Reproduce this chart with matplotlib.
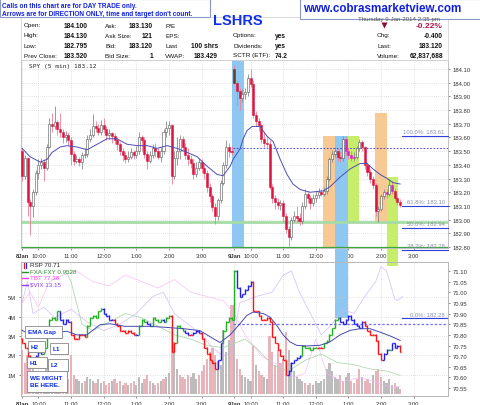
import numpy as np
import matplotlib.pyplot as plt
from matplotlib.patches import Rectangle

plt.rcParams['font.family'] = ['Liberation Sans', 'DejaVu Sans']

# ---- SPY 5 min candles: bar 0 = 8 Jan 9:30, bar 78 = 9 Jan 9:30
spy_close = [
    183.32, 183.45, 183.13, 183.10, 183.20, 183.34, 183.40, 183.42, 183.38, 183.53, 183.70, 183.68,
    183.71, 183.66, 183.64, 183.60, 183.62, 183.58, 183.48, 183.43, 183.44, 183.42, 183.47, 183.48,
    183.59, 183.62, 183.68, 183.67, 183.64, 183.69, 183.66, 183.62, 183.63, 183.61, 183.58, 183.55,
    183.50, 183.47, 183.44, 183.46, 183.49, 183.47, 183.50, 183.60, 183.58, 183.48, 183.43, 183.47,
    183.52, 183.50, 183.46, 183.50, 183.64, 183.67, 183.69, 183.32, 183.45, 183.50, 183.59, 183.53,
    183.47, 183.44, 183.41, 183.33, 183.38, 183.42, 183.38, 183.34, 183.24, 183.17, 183.09, 183.03,
    183.14, 183.27, 183.40, 183.53, 183.50, 183.49,
    184.00, 183.94, 183.89, 183.92, 183.93, 184.03, 183.99, 183.76, 183.72, 183.69, 183.59, 183.56,
    183.55, 183.24, 183.16, 183.13, 183.11, 183.12, 183.03, 182.93, 182.87, 183.00, 183.03, 183.01,
    182.99, 183.10, 183.19, 183.16, 183.12, 183.16, 183.18, 183.20, 183.19, 183.21, 183.30, 183.44,
    183.48, 183.50, 183.46, 183.45, 183.59, 183.50, 183.47, 183.45, 183.46, 183.52, 183.57, 183.53,
    183.40, 183.35, 183.30, 183.25, 183.06, 183.08, 183.17, 183.20, 183.19, 183.25, 183.21, 183.16,
    183.13, 183.11]
spy_high = [
    183.52, 183.47, 183.46, 183.15, 183.22, 183.36, 183.44, 183.45, 183.44, 183.55, 183.74, 183.78,
    183.83, 183.73, 183.78, 183.66, 183.65, 183.64, 183.60, 183.50, 183.47, 183.46, 183.49, 183.52,
    183.62, 183.66, 183.77, 183.72, 183.70, 183.73, 183.74, 183.68, 183.66, 183.64, 183.63, 183.60,
    183.57, 183.52, 183.49, 183.50, 183.52, 183.51, 183.54, 183.64, 183.62, 183.60, 183.50, 183.50,
    183.55, 183.56, 183.52, 183.53, 183.66, 183.72, 183.72, 183.70, 183.50, 183.60, 183.62, 183.61,
    183.56, 183.52, 183.47, 183.44, 183.42, 183.45, 183.44, 183.41, 183.36, 183.27, 183.19, 183.12,
    183.16, 183.29, 183.42, 183.58, 183.56, 183.54,
    184.13, 184.02, 183.96, 183.95, 183.96, 184.06, 184.10, 184.02, 183.79, 183.74, 183.70, 183.64,
    183.60, 183.58, 183.26, 183.18, 183.16, 183.14, 183.14, 183.05, 182.95, 183.02, 183.06, 183.10,
    183.05, 183.13, 183.22, 183.21, 183.18, 183.19, 183.21, 183.23, 183.22, 183.24, 183.32, 183.46,
    183.51, 183.53, 183.52, 183.49, 183.61, 183.60, 183.52, 183.50, 183.49, 183.54, 183.59, 183.58,
    183.54, 183.42, 183.37, 183.32, 183.27, 183.10, 183.19, 183.22, 183.22, 183.30, 183.28, 183.23,
    183.18, 183.15]
spy_low = [
    183.28, 183.30, 183.03, 182.89, 183.02, 183.18, 183.30, 183.37, 183.28, 183.36, 183.52, 183.64,
    183.66, 183.62, 183.60, 183.56, 183.57, 183.54, 183.40, 183.40, 183.41, 183.39, 183.37, 183.45,
    183.46, 183.57, 183.60, 183.64, 183.62, 183.62, 183.63, 183.58, 183.59, 183.56, 183.55, 183.51,
    183.47, 183.43, 183.41, 183.42, 183.44, 183.44, 183.45, 183.48, 183.50, 183.45, 183.37, 183.41,
    183.45, 183.46, 183.44, 183.42, 183.48, 183.60, 183.62, 183.26, 183.30, 183.40, 183.44, 183.50,
    183.44, 183.40, 183.38, 183.30, 183.31, 183.36, 183.34, 183.30, 183.20, 183.13, 183.06, 182.97,
    183.00, 183.12, 183.25, 183.38, 183.46, 183.47,
    183.99, 183.84, 183.80, 183.86, 183.88, 183.90, 183.97, 183.74, 183.68, 183.65, 183.56, 183.53,
    183.52, 183.22, 183.12, 183.08, 183.08, 183.07, 182.98, 182.90, 182.81, 182.85, 182.98, 182.98,
    182.96, 182.97, 183.08, 183.12, 183.08, 183.10, 183.13, 183.16, 183.17, 183.17, 183.19, 183.28,
    183.42, 183.46, 183.43, 183.42, 183.43, 183.47, 183.44, 183.43, 183.43, 183.44, 183.50, 183.50,
    183.37, 183.32, 183.27, 183.22, 183.03, 182.98, 183.06, 183.15, 183.16, 183.17, 183.19, 183.14,
    183.11, 183.09]
day_open = {0: 183.50, 78: 184.10}
magenta_bars = [119, 120, 121, 122, 134, 136]

# moving average of SPY, read as (bar, price)
ema_x = [0, 2.9, 6.6, 9.2, 11, 14, 16.5, 20.2, 23.9, 27.6, 31.2, 34.9, 38.6, 42.3, 46, 49.6, 53.3,
         57, 60.7, 64.3, 68, 71.7, 73.9, 76.5, 77.6, 80.1, 81.3, 82.7, 84.6, 87.5, 90, 92.3, 94.9,
         97.4, 99.6, 102.2, 105.9, 110.7, 113.2, 116.9, 120.6, 124.3, 126.8, 129, 131.6, 134.2,
         136.4, 139]
ema_y = [183.52, 183.46, 183.42, 183.44, 183.49, 183.53, 183.54, 183.53, 183.51, 183.55, 183.59,
         183.59, 183.55, 183.54, 183.54, 183.52, 183.54, 183.52, 183.49, 183.46, 183.39, 183.33,
         183.32, 183.39, 183.44, 183.515, 183.59, 183.65, 183.68, 183.68, 183.61, 183.57, 183.44,
         183.33, 183.26, 183.22, 183.20, 183.21, 183.24, 183.31, 183.37, 183.41, 183.41, 183.37,
         183.33, 183.30, 183.27, 183.26]

# fibonacci levels
fib_names = ['100.0%', '61.8%', '50.0%', '38.2%', '0.0%']
fib_levels = [183.61, 183.10, 182.94, 182.78, 182.28]

# ---- lower panel: RSP bars, volume, overlays
rsp_close = [
    70.76, 70.74, 70.70, 70.66, 70.68, 70.70, 70.72, 70.71, 70.74, 70.80, 70.87, 70.88,
    70.87, 70.91, 70.87, 70.85, 70.87, 70.86, 70.80, 70.78, 70.78, 70.80, 70.80, 70.79,
    70.84, 70.88, 70.89, 70.88, 70.91, 70.92, 70.90, 70.89, 70.87, 70.87, 70.85, 70.84,
    70.82, 70.82, 70.81, 70.82, 70.81, 70.80, 70.80, 70.84, 70.87, 70.86, 70.85, 70.84,
    70.88, 70.87, 70.86, 70.87, 70.86, 70.88, 70.89, 70.72, 70.76, 70.84, 70.83, 70.82,
    70.81, 70.80, 70.80, 70.81, 70.82, 70.81, 70.78, 70.74, 70.71, 70.68, 70.67, 70.64,
    70.68, 70.76, 70.82, 70.86, 70.88, 70.87,
    71.10, 71.02, 70.98, 70.99, 71.01, 71.03, 71.05, 70.91, 70.91, 70.89, 70.87, 70.87,
    70.88, 70.86, 70.79, 70.76, 70.73, 70.70, 70.68, 70.61, 70.63, 70.67, 70.68, 70.69,
    70.70, 70.75, 70.74, 70.74, 70.73, 70.74, 70.74, 70.74, 70.74, 70.76, 70.77, 70.80,
    70.83, 70.87, 70.88, 70.86, 70.85, 70.87, 70.89, 70.87, 70.85, 70.84, 70.83, 70.86,
    70.84, 70.82, 70.80, 70.80, 70.77, 70.71, 70.68, 70.71, 70.73, 70.73, 70.76, 70.74,
    70.75, 70.72]
rsp_open0 = 70.78
rsp_state = ("rrrrrbbbgggg" "ggbbbbrrrrrr" "ggggggbbbbrr" "rrrrrrbgggbb" "ggggbggrrggg"
             "bbrbbbrrrrrr" "bbgggg"
             "gbbbbbbrrrrr" "rrrrrrrrbbbb" "bggggggrrggg" "gggbbbbbbbbb" "rrrrrrrbbgbb" "br")
volume_m = [
    2.3, 1.6, 2.0, 1.7, 1.4, 1.2, 1.0, 1.1, 0.9, 1.3, 1.5, 1.1,
    0.9, 0.8, 1.0, 0.9, 0.7, 0.8, 2.0, 1.0, 0.8, 0.7, 0.6, 0.7,
    0.9, 0.8, 0.7, 0.6, 0.8, 0.6, 0.7, 0.5, 0.6, 0.7, 0.8, 0.6,
    0.7, 0.5, 0.6, 0.5, 0.6, 0.7, 0.5, 0.9, 0.6, 0.8, 1.0, 0.7,
    0.6, 0.5, 0.6, 0.7, 0.8, 0.9, 1.1, 3.4, 2.7, 1.3, 1.0, 0.9,
    0.8, 1.0, 0.9, 1.1, 0.8, 1.0, 1.2, 1.5, 1.8, 2.2, 2.4, 2.0,
    1.7, 1.5, 3.3, 2.2, 2.8, 4.6,
    4.6, 1.8, 1.3, 1.0, 0.9, 0.8, 0.7, 2.5, 1.5, 1.2, 1.0, 0.9,
    0.8, 3.0, 2.2, 1.5, 2.3, 1.6, 1.8, 3.2, 2.3, 1.6, 1.2, 0.9,
    0.8, 0.7, 0.6, 0.5, 0.6, 0.5, 0.7, 0.6, 0.7, 0.8, 1.3, 1.6,
    1.2, 0.9, 0.8, 1.0, 0.7, 0.9, 1.1, 0.7, 0.6, 0.8, 1.3, 0.9,
    0.7, 0.8, 0.6, 1.0, 1.2, 1.3, 0.9, 0.7, 0.6, 0.8, 0.5, 0.6,
    0.4, 0.3]
rsp_ema_x = [0, 4.2, 10.3, 16.4, 20.1, 23.8, 28.7, 32.3, 37.9, 47.1, 53.2, 59.3, 65.4, 70.3, 72.8,
             76.5, 80.1, 82.6, 85, 88.7, 91.2, 93.6, 96.1, 98.5, 100.9, 104.6, 109.5, 113.2,
             116.9, 120.6, 124.3, 127.9, 131.6, 135.3, 139]
rsp_ema_y = [70.821, 70.795, 70.806, 70.817, 70.80, 70.80, 70.848, 70.852, 70.84, 70.84, 70.835,
             70.829, 70.82, 70.782, 70.764, 70.80, 70.852, 70.891, 70.907, 70.90, 70.883, 70.845,
             70.798, 70.767, 70.751, 70.748, 70.751, 70.767, 70.80, 70.821, 70.829, 70.829,
             70.813, 70.795, 70.774]
# comparison symbols, placed on the RSP scale as drawn
vix_x = [0, 2, 4, 8, 12, 18, 24, 30, 36, 42, 48, 52, 56, 62, 66, 70, 74, 77, 80, 86, 92, 96, 99,
         102, 106, 110, 114, 118, 122, 126, 130, 132, 134, 137, 138, 140]
vix_y = [70.95, 71.05, 70.90, 70.93, 70.88, 70.92, 70.86, 70.82, 70.85, 70.90, 70.98, 71.00, 70.90,
         70.84, 70.80, 70.74, 70.70, 70.72, 70.95, 70.98, 71.00, 71.08, 71.10, 71.00, 70.90, 70.80,
         70.85, 70.92, 70.90, 70.98, 71.05, 71.12, 71.10, 70.97, 70.96, 70.98]
tbt_x = [0, 3, 6, 10, 15, 20, 26, 32, 38, 44, 50, 56, 62, 68, 74, 78, 82, 88, 94, 100, 104, 108,
         112, 118, 124, 130, 136, 139]
tbt_y = [70.95, 71.00, 70.93, 71.05, 71.08, 71.10, 71.05, 71.03, 71.08, 71.05, 71.02, 71.06, 71.00,
         70.98, 70.96, 70.90, 70.80, 70.70, 70.66, 70.60, 70.62, 70.78, 70.62, 70.58, 70.60, 70.58,
         70.55, 70.56]
fx_x = [16, 18, 20, 22, 26, 32, 38, 44, 50, 56, 62, 68, 74, 78, 82, 86, 92, 98, 104, 110, 116, 122,
        128, 134, 139]
fx_y = [71.10, 71.05, 70.95, 70.85, 70.82, 70.86, 70.90, 70.88, 70.84, 70.80, 70.78, 70.75, 70.74,
        70.76, 70.78, 70.74, 70.66, 70.63, 70.68, 70.71, 70.67, 70.66, 70.64, 70.63, 70.61]

hour_ticks = [0, 6, 18, 30, 42, 54, 66, 78, 84, 96, 108, 120, 132, 144]
hour_labels = ['8Jan', '10:00', '11:00', '12:00', '1:00', '2:00', '3:00',
               '9Jan', '10:00', '11:00', '12:00', '1:00', '2:00', '3:00']

# ------------------------------------------------------------------
W, H = 480, 406
fig = plt.figure(figsize=(4.8, 4.06), dpi=100)


def px_box(l, t, r, b):
    return [l / W, 1 - b / H, (r - l) / W, (b - t) / H]


XL = (-0.4, 156.6)
ax = fig.add_axes(px_box(21, 61, 448, 249))
axv = fig.add_axes(px_box(21, 263, 448, 397))
axv.set_facecolor('none')
axr = axv.twinx()

grid_kw = dict(color='#c8c8c8', ls=(0, (1, 2)), lw=0.5)
tick_fs = 4.2

# ---- upper panel
x = np.arange(len(spy_close))
c = np.array(spy_close)
o = np.array([day_open[i] if i in day_open else spy_close[i - 1] for i in x])
hi = np.array(spy_high)
lo = np.array(spy_low)
up = c >= o

# shaded bands
ax.add_patch(Rectangle((77.2, 182.5), 4.4, 2.0, color='#8ec8f2', lw=0, zorder=1))
ax.add_patch(Rectangle((110.7, 182.793), 4.4, 183.61 - 182.793, color='#f7c994', lw=0, zorder=1))
ax.add_patch(Rectangle((115.1, 182.28), 4.8, 183.61 - 182.28, color='#8ec8f2', lw=0, zorder=1,
                       clip_on=False))
ax.add_patch(Rectangle((119.9, 182.98), 4.0, 183.61 - 182.98, color='#c6ee6a', lw=0, zorder=1))
ax.add_patch(Rectangle((129.8, 182.98), 4.4, 183.78 - 182.98, color='#f7c994', lw=0, zorder=1))
ax.add_patch(Rectangle((134.2, 182.66), 4.0, 183.31 - 182.66, color='#c6ee6a', lw=0, zorder=1,
                       clip_on=False))

ax.axhline(182.98, color='#a6dca6', lw=2.0, zorder=2)
ax.axhline(182.80, color='#3aa83a', lw=0.9, zorder=2)
ax.hlines(183.52, 77.6, XL[1], color='#3030e0', ls=(0, (2, 2)), lw=0.6, zorder=2)

wick_col = np.where(up, '#8a8a8a', '#ee7d97')
ax.vlines(x, lo, hi, colors=wick_col, lw=0.6, zorder=3)
body = np.maximum(np.abs(c - o), 0.006)
face = np.where(up, 'white', '#dc1640').astype(object)
edge = np.where(up, '#555555', '#dc1640').astype(object)
for i in magenta_bars:
    face[i] = '#e020d0'
    edge[i] = '#e020d0'
face[78] = '#6b3a20'
edge[78] = '#6b3a20'
ax.bar(x, body, bottom=np.minimum(o, c), width=0.75, color=list(face), edgecolor=list(edge),
       lw=0.4, zorder=4)
ax.plot(ema_x, ema_y, color='#4d4dbb', lw=0.7, zorder=5)

for name, lvl in zip(fib_names, fib_levels):
    ax.plot([139.7, XL[1]], [lvl, lvl], color='#3040e0', lw=0.8, clip_on=False, zorder=6)
    ax.text(155.4, lvl + 0.012, f'{name}: {lvl:.2f}', ha='right', va='bottom', fontsize=4.2,
            color='#8890a8', clip_on=False, zorder=6)

ax.set_xlim(*XL)
ax.set_ylim(182.793, 184.165)
ax.set_yticks(np.arange(182.80, 184.11, 0.10))
ax.set_yticklabels([f'{v:.2f}' for v in np.arange(182.80, 184.11, 0.10)])
ax.yaxis.tick_right()
ax.set_xticks(hour_ticks)
ax.set_xticklabels(hour_labels)
ax.text(0.018, 0.985, 'SPY (5 min) 183.12', transform=ax.transAxes, fontsize=4.4,
        family='DejaVu Sans Mono', va='top', ha='left', color='#222222')

# ---- lower panel
r = np.array(rsp_close)
ro = np.r_[rsp_open0, r[:-1]]
state_col = {'r': '#ff1010', 'g': '#20b020', 'b': '#2020f0'}
cols = [state_col[s] for s in rsp_state]
vol_col = ['#bcbcbc' if r[i] >= ro[i] else '#e8b4bc' for i in x]
axv.bar(x, volume_m, width=0.8, color=vol_col, zorder=1)
axv.set_ylim(-0.077, 6.795)
axv.set_yticks([1, 2, 3, 4, 5])
axv.set_yticklabels(['1M', '2M', '3M', '4M', '5M'])
axv.set_xlim(*XL)
axv.set_xticks(hour_ticks)
axv.set_xticklabels(hour_labels)

axr.plot(vix_x, vix_y, color='#cdb4f2', lw=0.6, alpha=0.75, zorder=2)
axr.plot(tbt_x, tbt_y, color='#f6b4f2', lw=0.6, alpha=0.7, zorder=2)
axr.plot(fx_x, fx_y, color='#a8d4a8', lw=0.6, alpha=0.9, zorder=2)
axr.hlines(70.853, 77.6, XL[1], color='#7070f0', ls=(0, (2, 1.5)), lw=0.9, zorder=3)
axr.vlines(x, np.minimum(ro, r), np.maximum(ro, r) + 0.004, colors=cols, lw=1.0, zorder=4)
axr.hlines(ro, x - 0.5, x, colors=cols, lw=1.0, zorder=4)
axr.hlines(r, x, x + 0.5, colors=cols, lw=1.0, zorder=4)
axr.plot(rsp_ema_x, rsp_ema_y, color='#4848b0', lw=0.7, zorder=5)
axr.set_ylim(70.513, 71.142)
ryt = np.arange(70.55, 71.11, 0.05)
axr.set_yticks(ryt)
axr.set_yticklabels([f'{v:.2f}' for v in ryt])
axr.set_xlim(*XL)

for a in (ax, axv):
    a.grid(True, **grid_kw)
    a.set_axisbelow(True)
for a in (ax, axv, axr):
    a.tick_params(labelsize=tick_fs, length=1.5, width=0.4, pad=2, colors='#333333')
    for s in a.spines.values():
        s.set_color('#b8b8b8')
        s.set_linewidth(0.6)
    for lab in a.get_xticklabels():
        if 'Jan' in lab.get_text():
            lab.set_fontweight('bold')

# legend of lower panel
lg = [('RSP 70.71', '#222222'), ('FXA:FXY 0.9528', '#2f8f2f'), ('TBT 77.38', '#ff40f0'),
      ('$VIX 13.15', '#9040f0')]

# ---- overlay in pixel coordinates
ov = fig.add_axes([0, 0, 1, 1], zorder=10)
ov.set_xlim(0, W)
ov.set_ylim(H, 0)
ov.axis('off')

for k, (txt, col) in enumerate(lg):
    yy = 266 + 6.5 * k
    if k == 0:
        ov.plot([23.5, 23.5], [263.5, 268.5], color='#e02020', lw=0.9)
        ov.plot([26, 26], [263.5, 268.5], color='#2030e0', lw=0.9)
    else:
        ov.plot([22, 28], [yy, yy], color=col, lw=1.0)
    ov.text(29.5, yy, txt, fontsize=4.5, color=col, va='center', ha='left')

# header table
ov.add_patch(Rectangle((21, 18), 427, 43, fill=False, ec='#d4d4d4', lw=0.6))
rows_y = [26, 36, 46, 56]
cols_txt = [
    (24, 88, ['Open:', 'High:', 'Low:', 'Prev Close:'], ['184.100', '184.130', '182.795', '183.520']),
    (105, 153, ['Ask:', 'Ask Size:', 'Bid:', 'Bid Size:'], ['183.130', '121', '183.120', '1']),
    (165, 218, ['P/E', 'EPS:', 'Last', 'VWAP:'], ['', '', '100 shrs', '183.429']),
]
for lx, vx, labs, vals in cols_txt:
    for yy, lab, val in zip(rows_y, labs, vals):
        ov.text(lx, yy, lab, fontsize=4.6, va='center', ha='left', color='#111111')
        ov.text(vx, yy, val, fontsize=4.8, va='center', ha='right', fontweight='bold', color='#111111')
for yy, lab, val in zip(rows_y[1:], ['Options:', 'Dividends:', 'SCTR (ETF):'], ['yes', 'yes', '74.2']):
    ov.text(233, yy, lab, fontsize=4.6, va='center', ha='left', color='#111111')
    ov.text(275, yy, val, fontsize=4.8, va='center', ha='left', fontweight='bold', color='#111111')
ov.text(213, 21, 'LSHRS', fontsize=10.5, fontweight='bold', color='#1030e8', va='center', ha='left')

ov.text(399, 19.5, 'Thursday 9-Jan-2014 2:35 pm', fontsize=4.4, color='#555555', va='center', ha='center')
ov.plot([383.5], [26], marker='v', ms=4.5, color='#8c1030', mec='none')
ov.text(443, 26, '-0.22%', fontsize=6.0, fontweight='bold', color='#b01848', va='center', ha='right')
for yy, lab, val in zip(rows_y[1:], ['Chg:', 'Last:', 'Volume:'], ['-0.400', '183.120', '62,837,688']):
    ov.text(377, yy, lab, fontsize=4.6, va='center', ha='left', color='#111111')
    ov.text(443, yy, val, fontsize=4.8, va='center', ha='right', fontweight='bold', color='#111111')

# notice boxes
ov.add_patch(Rectangle((0, 0), 210, 17.5, fc='white', ec='#8a98c8', lw=0.8))
ov.text(2.5, 6.5, 'Calls on this chart are for DAY TRADE only.', fontsize=4.7, fontweight='bold',
        color='#1020e0', va='center', ha='left')
ov.text(2.5, 15, "Arrows are for DIRECTION ONLY, time and target don't count.", fontsize=4.7,
        fontweight='bold', color='#1020e0', va='center', ha='left')
ov.add_patch(Rectangle((300, 0), 185, 19.5, fc='white', ec='#8a98c8', lw=0.8))
ov.text(303, 9.5, 'www.cobrasmarketview.com', fontsize=8.4, fontweight='bold', color='#1020e0',
        va='center', ha='left')

# annotation boxes in lower panel
notes = [((25, 327, 62, 339), 'EMA Gap'), ((28, 342, 45, 353), 'H2'), ((50, 344, 68, 355), 'L1'),
         ((27, 358, 47, 369), 'H1'), ((48, 360, 68, 372), 'L2'),
         ((27, 372, 67, 393), 'WE MIGHT\nBE HERE.')]
for (l, t, rr, b), txt in notes:
    ov.add_patch(Rectangle((l + 1.2, t + 1.2), rr - l, b - t, fc='#9a9a9a', ec='none'))
    ov.add_patch(Rectangle((l, t), rr - l, b - t, fc='white', ec='#8a8a8a', lw=0.6))
    if '\n' in txt:
        ov.text(l + 3, (t + b) / 2, txt, fontsize=4.6, fontweight='bold', color='#1030e0',
                va='center', ha='left', linespacing=1.5)
    else:
        ov.text(l + 3, (t + b) / 2, txt, fontsize=4.6, fontweight='bold', color='#1030e0',
                va='center', ha='left')

fig.savefig('out.png', dpi=100, facecolor='white')
